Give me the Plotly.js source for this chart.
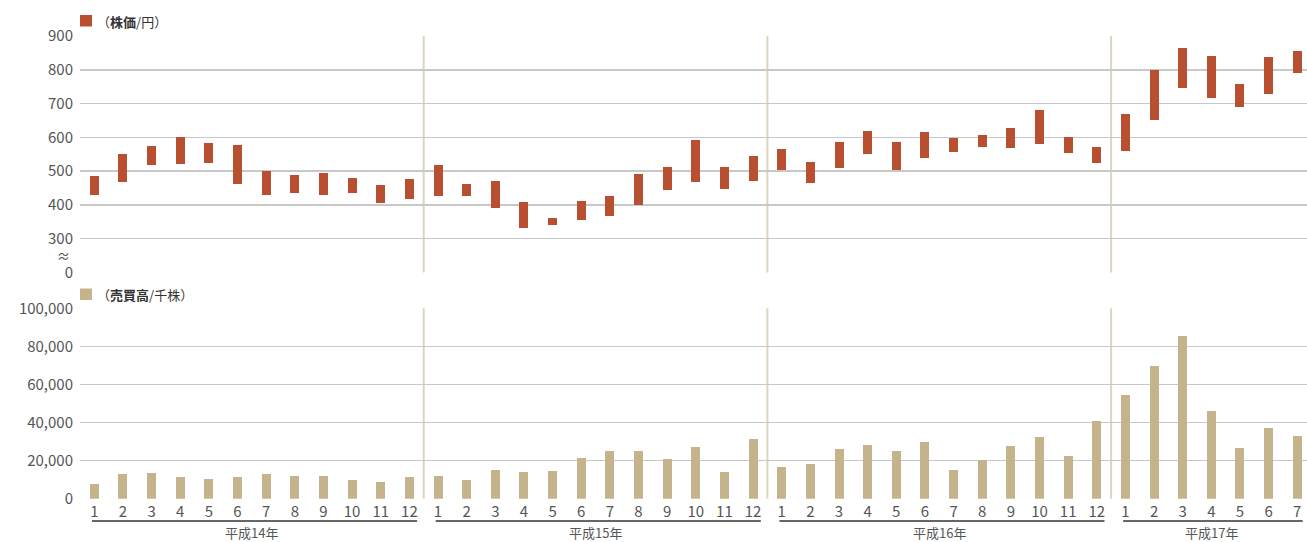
<!DOCTYPE html>
<html><head><meta charset="utf-8">
<script src="https://cdn.plot.ly/plotly-3.0.1.min.js"></script>
<style>html,body{margin:0;padding:0;background:#fff}#chart{width:1307px;height:542px}</style>
</head><body><div id="chart"></div>
<script>
// ---- data ----
const years = ['平成14年','平成15年','平成16年','平成17年'];
const monthsPerYear = [12, 12, 12, 7];
const monthLabels = ['1','2','3','4','5','6','7','8','9','10','11','12',
  '1','2','3','4','5','6','7','8','9','10','11','12',
  '1','2','3','4','5','6','7','8','9','10','11','12',
  '1','2','3','4','5','6','7'];
const priceHigh = [486,551,575,600,584,578,501,489,495,480,460,477,
  519,462,471,409,362,412,427,492,513,593,513,545,
  566,528,587,619,587,616,598,607,628,681,601,572,
  669,800,864,841,758,838,856];
const priceLow = [430,468,519,522,525,463,430,436,430,436,406,418,
  427,427,392,332,341,356,368,400,445,468,448,471,
  504,466,510,551,504,539,557,572,569,581,554,525,
  560,652,746,717,690,729,791];
const volume = [7700,12960,13480,11380,10330,11380,12960,11900,11900,9800,8750,11380,
  11900,9800,15060,14000,14530,21360,25040,25040,20840,27140,14000,31340,
  16630,18210,26090,28190,25040,29770,15060,20140,27670,32390,22410,40800,
  54460,69690,85450,46050,26620,37120,32920];
const priceTickVals = [200,300,400,500,600,700,800,900];
const priceTickText = ['0','300','400','500','600','700','800','900'];
const volTickVals = [0,20000,40000,60000,80000,100000];
const volTickText = ['0','20,000','40,000','60,000','80,000','100,000'];

// ---- style ----
const RED = '#B94F31', TAN = '#C5B48B', GRID = '#c8c8c8', DIV = '#DDD4BE';
const FONT = '"Noto Sans CJK JP", "Noto Sans", sans-serif';
const H = 542;
const py = px => 1 - px / H;

const idx = monthLabels.map((_, i) => i);

const traces = [
  {type:'bar', x: idx, y: priceHigh.map((h,i)=>h-priceLow[i]), base: priceLow,
   xaxis:'x', yaxis:'y2', marker:{color:RED}, width:0.314, hoverinfo:'skip'},
  {type:'bar', x: idx, y: volume, xaxis:'x', yaxis:'y',
   marker:{color:TAN}, width:0.314, hoverinfo:'skip'}
];

const shapes = [], annotations = [];
let start = 0;
monthsPerYear.forEach((n, k) => {
  const end = start + n - 1;
  if (k > 0) {
    ['y domain','y2 domain'].forEach(yr => shapes.push({type:'line', xref:'x', yref:yr,
      x0:start-0.5, x1:start-0.5, y0:0, y1:1, line:{color:DIV, width:2}, layer:'below'}));
  }
  shapes.push({type:'line', xref:'x', yref:'paper', x0:start-0.08, x1:end+(n===12?0.27:0.19),
    y0:py(521), y1:py(521), line:{color:'#333', width:1.3}});
  annotations.push({xref:'x', yref:'paper', x:(start+end)/2, y:py(532.5), text:years[k],
    showarrow:false, xanchor:'center', yanchor:'middle', font:{family:FONT, size:13, color:'#555'}});
  start += n;
});
shapes.push({type:'rect', xref:'paper', yref:'paper', x0:0, x1:12/1227, y0:py(26.5), y1:py(15),
  fillcolor:RED, line:{width:0}});
shapes.push({type:'rect', xref:'paper', yref:'paper', x0:0, x1:12/1227, y0:py(300), y1:py(288.5),
  fillcolor:TAN, line:{width:0}});
annotations.push({xref:'paper', yref:'paper', x:15/1227, y:py(21), xanchor:'left', yanchor:'middle',
  showarrow:false, text:'（<b>株価</b>/円）', font:{family:FONT, size:13, color:'#333'}});
annotations.push({xref:'paper', yref:'paper', x:15/1227, y:py(294.5), xanchor:'left', yanchor:'middle',
  showarrow:false, text:'（<b>売買高</b>/千株）', font:{family:FONT, size:13, color:'#333'}});
annotations.push({xref:'paper', yref:'paper', x:-8/1227, y:py(255.5), xanchor:'right', yanchor:'middle',
  showarrow:false, text:'≈', font:{family:FONT, size:13, color:'#555'}});

const layout = {
  width:1307, height:542,
  margin:{l:80, r:0, t:0, b:0},
  paper_bgcolor:'#fff', plot_bgcolor:'#fff',
  showlegend:false, bargap:0,
  font:{family:FONT, color:'#555'},
  xaxis:{range:[-0.5, 42.34], tickvals:idx, ticktext:monthLabels, showgrid:false, zeroline:false,
    showline:false, ticks:'', tickfont:{family:FONT, size:15, color:'#555'}, anchor:'y',
    ticklabelstandoff:2, fixedrange:true},
  yaxis:{domain:[py(498.7), py(308.3)], range:[0,100000], tickvals:volTickVals, ticktext:volTickText,
    showgrid:true, gridcolor:GRID, gridwidth:1.5, zeroline:false, showline:false, ticks:'',
    tickfont:{family:FONT, size:15, color:'#555'}, ticklabelstandoff:6, anchor:'x'},
  yaxis2:{domain:[py(272.5), py(36)], range:[200,900], tickvals:priceTickVals, ticktext:priceTickText,
    showgrid:true, gridcolor:GRID, gridwidth:1.5, zeroline:false, showline:false, ticks:'',
    tickfont:{family:FONT, size:15, color:'#555'}, ticklabelstandoff:6, anchor:'x'},
  shapes, annotations
};
Plotly.newPlot('chart', traces, layout, {staticPlot:true, displayModeBar:false});
</script></body></html>
